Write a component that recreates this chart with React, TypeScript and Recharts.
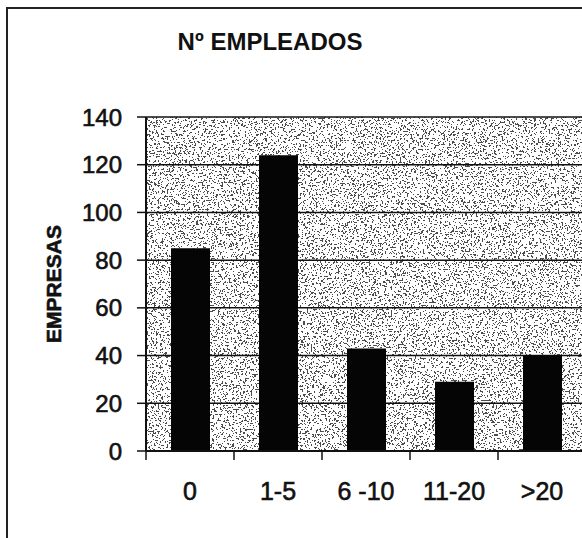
import React from 'react';
import { BarChart, Bar, XAxis, YAxis, CartesianGrid } from 'recharts';

const categories = ['0', '1-5', '6 -10', '11-20', '>20'];
const empresas = [85, 124, 43, 29, 40];
const yTicks = [0, 20, 40, 60, 80, 100, 120, 140];

const data = categories.map((c, i) => ({ rango: c, empresas: empresas[i] }));

const FONT = '"Liberation Sans", Arial, sans-serif';

// Excel-style category tick: label in the middle, tick mark on the band boundary
const CategoryTick = (props: any) => {
  const { x, y, payload, index } = props;
  const half = payload.offset || 0;
  return (
    <g>
      <line x1={x - half} y1={y} x2={x - half} y2={y + 9} stroke="#111" strokeWidth={1.5} />
      {index === categories.length - 1 && (
        <line x1={x + half} y1={y} x2={x + half} y2={y + 9} stroke="#111" strokeWidth={1.5} />
      )}
      <text
        x={x}
        y={y + 49}
        textAnchor="middle"
        fontSize={25}
        fontFamily={FONT}
        fill="#111"
        stroke="#111"
        strokeWidth={0.6}
      >
        {payload.value}
      </text>
    </g>
  );
};

const App: React.FC = () => {
  return (
    <div
      style={{
        position: 'absolute',
        left: 0,
        top: 0,
        width: 582,
        height: 538,
        overflow: 'hidden',
        background: '#fff',
      }}
    >
      {/* frame of the chart object */}
      <div
        style={{
          position: 'absolute',
          left: 6,
          top: 7,
          width: 620,
          height: 560,
          borderTop: '2px solid #222',
          borderLeft: '2px solid #222',
        }}
      />
      <div
        style={{
          position: 'absolute',
          left: 0,
          top: 30,
          width: 540,
          textAlign: 'center',
          fontFamily: FONT,
          fontWeight: 'bold',
          fontSize: 24,
          lineHeight: '24px',
          color: '#111',
        }}
      >
        Nº EMPLEADOS
      </div>
      <div
        style={{
          position: 'absolute',
          left: 53,
          top: 284,
          transform: 'translate(-50%, -50%) rotate(-90deg)',
          fontFamily: FONT,
          fontWeight: 'bold',
          fontSize: 21,
          lineHeight: '21px',
          whiteSpace: 'nowrap',
          color: '#111',
          WebkitTextStroke: '0.6px #111',
        }}
      >
        EMPRESAS
      </div>
      <div style={{ position: 'absolute', left: 0, top: 0 }}>
        <BarChart
          width={600}
          height={538}
          data={data}
          margin={{ top: 117, right: 14, bottom: 27, left: 66 }}
        >
          <defs>
            <filter id="grain" x="0" y="0" width="1" height="1">
              <feTurbulence type="fractalNoise" baseFrequency="0.55" numOctaves="2" seed="7" />
              <feColorMatrix
                type="matrix"
                values="0 0 0 0 0  0 0 0 0 0  0 0 0 0 0  1 0 0 0 0"
              />
              <feComponentTransfer>
                <feFuncA type="discrete" tableValues="0 0 0 0 0 0 1 1 1 1" />
              </feComponentTransfer>
            </filter>
            <pattern id="speckle" patternUnits="userSpaceOnUse" width="600" height="538">
              <rect width="600" height="538" fill="#fff" />
              <rect width="600" height="538" fill="#000" filter="url(#grain)" opacity={0.7} />
            </pattern>
          </defs>
          <CartesianGrid
            vertical={false}
            stroke="#111"
            strokeWidth={1.5}
            fill="url(#speckle)"
            fillOpacity={1}
          />
          <XAxis
            dataKey="rango"
            axisLine={{ stroke: '#111', strokeWidth: 2 }}
            tickLine={false}
            tickSize={0}
            tickMargin={0}
            height={60}
            interval={0}
            tick={<CategoryTick />}
          />
          <YAxis
            width={80}
            domain={[0, 140]}
            ticks={yTicks}
            interval={0}
            axisLine={{ stroke: '#111', strokeWidth: 2 }}
            tickLine={{ stroke: '#111', strokeWidth: 1.5 }}
            tickSize={9}
            tickMargin={15}
            tick={{ fontSize: 24, fontFamily: FONT, fill: '#111', stroke: '#111', strokeWidth: 0.6 }}
          />
          <Bar dataKey="empresas" fill="#050505" barSize={39} isAnimationActive={false} />
        </BarChart>
      </div>
    </div>
  );
};

export default App;
